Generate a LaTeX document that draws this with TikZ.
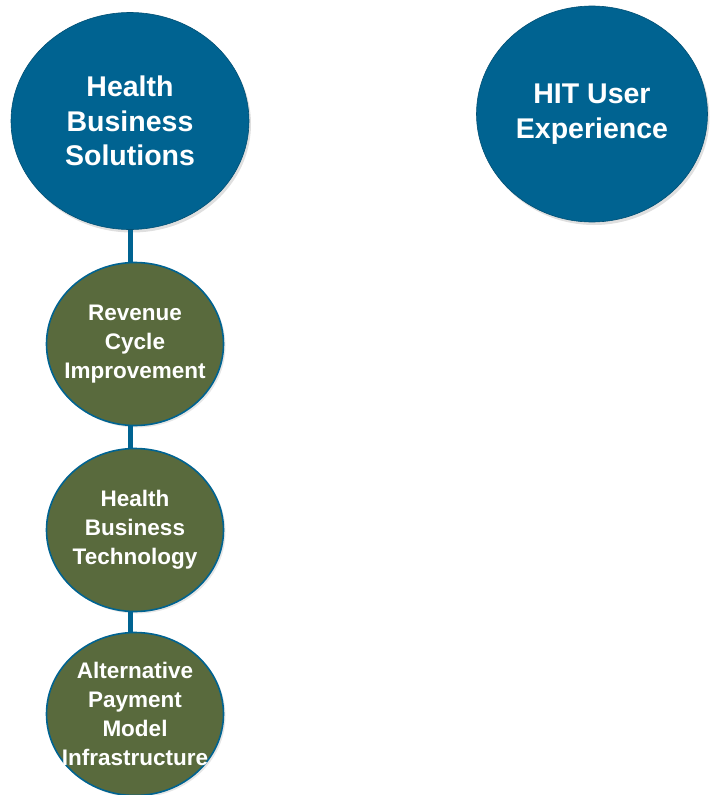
\documentclass[tikz,border=0pt]{standalone}
\usepackage{fontspec}
\setmainfont{Liberation Sans}
\usepackage{tikz}
\usetikzlibrary{shapes.geometric}
\usetikzlibrary{shadows}

\definecolor{hitblue}{RGB}{0,99,145}
\definecolor{hitgreen}{RGB}{89,106,61}

\tikzset{
  topic/.style = {ellipse, fill = hitblue, draw = hitblue!80!black, line width = .6pt,
    text = white, align = center, inner xsep = -15pt, inner ysep = -10pt,
    font = \bfseries\fontsize{28.5}{34.5}\selectfont,
    drop shadow = {opacity = .25, shadow xshift = 2pt, shadow yshift = -3pt}},
  subtopic/.style = {ellipse, fill = hitgreen, draw = hitblue, line width = 1.6pt,
    text = white, align = center, inner xsep = -15pt, inner ysep = -10pt,
    minimum width = 177pt, minimum height = 163pt,
    font = \bfseries\fontsize{22.5}{29}\selectfont,
    drop shadow = {opacity = .2, shadow xshift = 2pt, shadow yshift = -2pt}},
  link/.style = {draw = hitblue, line width = 5pt}
}

\begin{document}
\begin{tikzpicture}[x = 1pt, y = -1pt]
        \useasboundingbox (0,0) rectangle (710,795);
        \node[topic, minimum width = 238pt, minimum height = 217pt] (hbs) at (130,121) {Health\\Business\\Solutions};
        \node[topic, minimum width = 231pt, minimum height = 216pt] (hit) at (592,114) {HIT User\\Experience};
        \node[subtopic] (rci) at (135,344) {Revenue\\Cycle\\Improvement};
        \node[subtopic] (hbt) at (135,530) {Health\\Business\\Technology};
        \node[subtopic] (apm) at (135,714) {Alternative\\Payment\\Model\\Infrastructure};
        \draw[link] (hbs.south) -- (hbs.south |- rci.north);
        \draw[link] (hbs.south |- rci.south) -- (hbs.south |- hbt.north);
        \draw[link] (hbs.south |- hbt.south) -- (hbs.south |- apm.north);
        \end{tikzpicture}
\end{document}
